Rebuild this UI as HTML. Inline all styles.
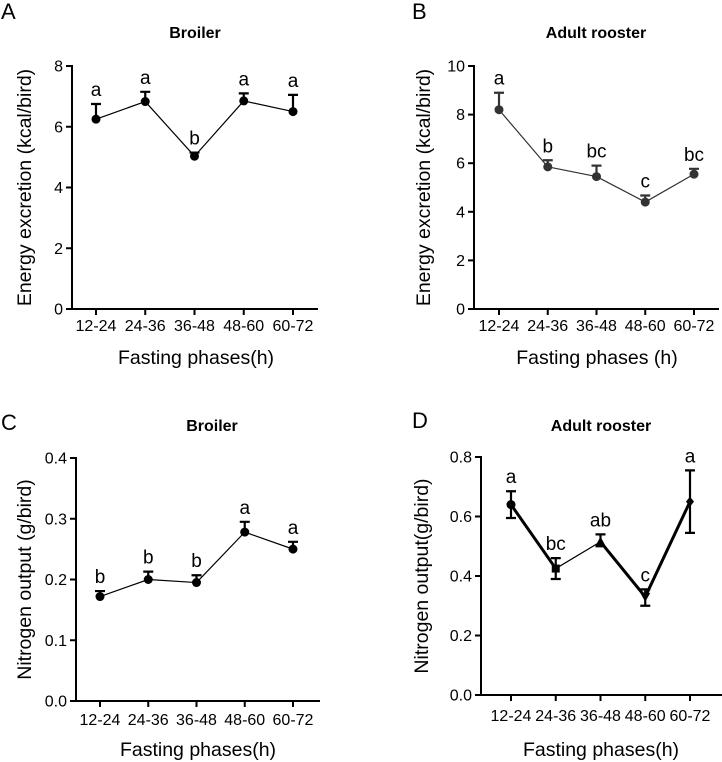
<!DOCTYPE html>
<html><head><meta charset="utf-8">
<style>
html,body{margin:0;padding:0;background:#fff;}
svg{display:block;font-family:"Liberation Sans",Arial,sans-serif;}
</style></head>
<body>
<svg id="fig" width="722" height="762" viewBox="0 0 722 762"></svg>
<script>
const categories = ["12-24","24-36","36-48","48-60","60-72"];
const aValues = [6.25, 6.83, 5.03, 6.85, 6.5];
const aErrTop = [6.75, 7.15, 5.15, 7.1, 7.05];
const aLetters = ["a","a","b","a","a"];
const aTicks = [0,2,4,6,8];
const bValues = [8.2, 5.85, 5.45, 4.4, 5.55];
const bErrTop = [8.9, 6.12, 5.9, 4.67, 5.77];
const bLetters = ["a","b","bc","c","bc"];
const bTicks = [0,2,4,6,8,10];
const cValues = [0.172, 0.2, 0.195, 0.278, 0.25];
const cErrTop = [0.181, 0.213, 0.207, 0.295, 0.262];
const cLetters = ["b","b","b","a","a"];
const cTicks = [0,0.1,0.2,0.3,0.4];
const cTickLabels = ["0.0","0.1","0.2","0.3","0.4"];
const dValues = [0.64, 0.425, 0.515, 0.33, 0.65];
const dErrLow = [0.595, 0.39, 0.5, 0.3, 0.545];
const dErrHigh = [0.685, 0.46, 0.54, 0.355, 0.755];
const dLetters = ["a","bc","ab","c","a"];
const dTicks = [0,0.2,0.4,0.6,0.8];
const dTickLabels = ["0.0","0.2","0.4","0.6","0.8"];

const NS="http://www.w3.org/2000/svg";
const svg=document.getElementById('fig');
function el(tag,attrs,parent,text){const e=document.createElementNS(NS,tag);for(const k in attrs)e.setAttribute(k,attrs[k]);if(text!==undefined)e.textContent=text;(parent||svg).appendChild(e);return e;}

function panel(o){
  const g=el('g',{});
  
  
  const ymax=o.ticks[o.ticks.length-1], ymin=o.ticks[0];
  const Y=v=>o.y0-(v-ymin)/(ymax-ymin)*(o.y0-o.y1);
  const X=i=>o.xs0+i*(o.xs1-o.xs0)/(categories.length-1);
  const col=o.color;
  const pl=el('text',{x:o.lx,y:o.ly,'font-size':22,fill:'#000'},g,o.id.toUpperCase());
  
  
  const t=el('text',{x:o.tx,y:o.ty,'font-size':16,'font-weight':'bold','text-anchor':'middle'},g,o.title);
  
  
  const ya=el('line',{x1:o.ax,y1:o.y1-1,x2:o.ax,y2:o.y0+1,stroke:'#000','stroke-width':2},g);
  
  
  const xa=el('line',{x1:o.ax-6,y1:o.y0,x2:o.axEnd,y2:o.y0,stroke:'#000','stroke-width':2},g);
  
  
  o.ticks.forEach((v,i)=>{
    el('line',{x1:o.ax-6,y1:Y(v),x2:o.ax,y2:Y(v),stroke:'#000','stroke-width':2},g);
    const tl=el('text',{x:o.ax-9,y:Y(v)+5.5,'font-size':16,'text-anchor':'end'},g,o.tickLabels?o.tickLabels[i]:String(v));
    
    
  });
  categories.forEach((c,i)=>{
    el('line',{x1:X(i),y1:o.y0,x2:X(i),y2:o.y0+6,stroke:'#000','stroke-width':2},g);
    const tl=el('text',{x:X(i),y:o.xly,'font-size':16,'text-anchor':'middle'},g,c);
    
    
  });
  const xt=el('text',{x:o.xtx,y:o.xty,'font-size':19.5,'text-anchor':'middle'},g,o.xtitle);
  
  
  const ytx=o.ytx, yty=(o.y0+o.y1)/2;
  const yt=el('text',{x:ytx,y:yty,'font-size':19.5,'text-anchor':'middle',transform:`rotate(-90 ${ytx} ${yty})`},g,o.ytitle);
  
  
  o.values.forEach((v,i)=>{
    const lo=o.errLow?o.errLow[i]:v, hi=o.errHigh[i];
    const eb=el('path',{d:`M${X(i)},${Y(lo)}V${Y(hi)}M${X(i)-5},${Y(hi)}H${X(i)+5}`+(o.errLow?`M${X(i)-5},${Y(lo)}H${X(i)+5}`:''),stroke:col,'stroke-width':2.2,fill:'none'},g);
    
    
  });
  for(let i=0;i<o.values.length-1;i++){
    const w=o.widths?o.widths[i]:1.2;
    const ln=el('line',{x1:X(i),y1:Y(o.values[i]),x2:X(i+1),y2:Y(o.values[i+1]),stroke:col,'stroke-width':w},g);
    
    
  }
  o.values.forEach((v,i)=>{
    const x=X(i),y=Y(v);const m=o.markers?o.markers[i]:'circle';let mk;
    if(m==='circle')mk=el('circle',{cx:x,cy:y,r:4.5,fill:col},g);
    else if(m==='square')mk=el('rect',{x:x-4,y:y-4,width:8,height:8,fill:col},g);
    else if(m==='tri')mk=el('path',{d:`M${x},${y-5}L${x+5},${y+4}L${x-5},${y+4}Z`,fill:col},g);
    else if(m==='tridown')mk=el('path',{d:`M${x},${y+5}L${x+5},${y-4}L${x-5},${y-4}Z`,fill:col},g);
    else mk=el('path',{d:`M${x},${y-5}L${x+4},${y}L${x},${y+5}L${x-4},${y}Z`,fill:col},g);
    
    
    const lt=el('text',{x:x,y:Y(o.errHigh[i])-8,'font-size':19,'text-anchor':'middle'},g,o.letters[i]);
    
    
  });
}

panel({id:'a',values:aValues,errHigh:aErrTop,letters:aLetters,ticks:aTicks,color:'#000',
  ax:72,axEnd:318,y0:309,y1:66,xs0:96,xs1:293,lx:1,ly:19,tx:195,ty:38,title:'Broiler',
  xly:331,xtx:196,xty:364,xtitle:'Fasting phases(h)',ytx:31,ytitle:'Energy excretion (kcal/bird)'});
panel({id:'b',values:bValues,errHigh:bErrTop,letters:bLetters,ticks:bTicks,color:'#333',
  ax:474,axEnd:719,y0:309,y1:66,xs0:499,xs1:694,lx:412,ly:19,tx:596,ty:38,title:'Adult rooster',
  xly:331,xtx:597,xty:364,xtitle:'Fasting phases (h)',ytx:430,ytitle:'Energy excretion (kcal/bird)'});
panel({id:'c',values:cValues,errHigh:cErrTop,letters:cLetters,ticks:cTicks,tickLabels:cTickLabels,color:'#000',
  ax:76,axEnd:320,y0:701,y1:458,xs0:100,xs1:293,lx:1,ly:430,tx:212,ty:431,title:'Broiler',
  xly:725,xtx:198,xty:756,xtitle:'Fasting phases(h)',ytx:31,ytitle:'Nitrogen output (g/bird)'});
panel({id:'d',values:dValues,errLow:dErrLow,errHigh:dErrHigh,letters:dLetters,ticks:dTicks,tickLabels:dTickLabels,color:'#000',
  widths:[3,1.2,3,3],markers:['circle','square','tri','tridown','diamond'],
  ax:481,axEnd:722,y0:695,y1:457,xs0:511,xs1:690,lx:412,ly:428,tx:601,ty:431,title:'Adult rooster',
  xly:721,xtx:601,xty:756,xtitle:'Fasting phases(h)',ytx:428,ytitle:'Nitrogen output(g/bird)'});
</script>
</body></html>
